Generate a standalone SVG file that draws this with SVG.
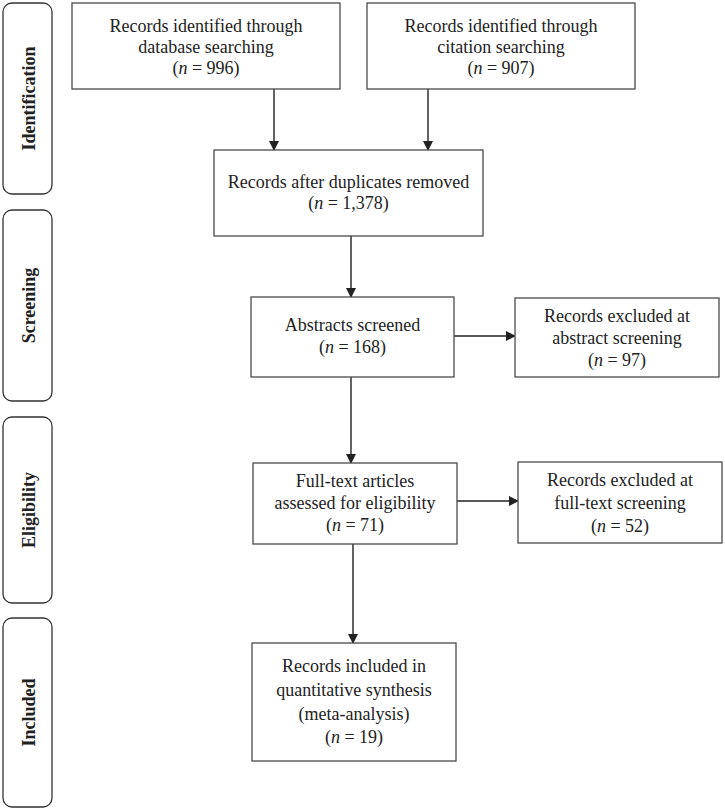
<svg xmlns="http://www.w3.org/2000/svg" width="725" height="809" viewBox="0 0 725 809">
<style>
.box{fill:#fff;stroke:#4a4a4a;stroke-width:1.3}
.side{fill:#fff;stroke:#333;stroke-width:1.3}
.t{font-family:"Liberation Serif","Times New Roman",serif;font-size:18px;fill:#222;text-anchor:middle}
.s{font-family:"Liberation Serif","Times New Roman",serif;font-size:18px;font-weight:bold;fill:#222;text-anchor:middle}
.i{font-style:italic}
.c{stroke:#222;stroke-width:1.4;fill:none;marker-end:url(#ah)}
</style>
<defs>
<marker id="ah" markerWidth="10" markerHeight="10" refX="9" refY="5" orient="auto" markerUnits="userSpaceOnUse">
<path d="M0,0 L10,5 L0,10 Z" fill="#222"/>
</marker>
</defs>
<rect width="725" height="809" fill="#fff"/>
<g id="side-identification"><rect class="side" x="3" y="3" width="49" height="191" rx="9"/><text class="s" transform="translate(35,98.5) rotate(-90)">Identification</text></g>
<g id="side-screening"><rect class="side" x="3" y="210" width="49" height="191" rx="9"/><text class="s" transform="translate(35,305.5) rotate(-90)">Screening</text></g>
<g id="side-eligibility"><rect class="side" x="3" y="417" width="49" height="186" rx="9"/><text class="s" transform="translate(35,510) rotate(-90)">Eligibility</text></g>
<g id="side-included"><rect class="side" x="3" y="618" width="49" height="189" rx="9"/><text class="s" transform="translate(35,712.5) rotate(-90)">Included</text></g>

<g id="connectors">
<line class="c" x1="274" y1="89" x2="274" y2="150"/>
<line class="c" x1="428" y1="89" x2="428" y2="150"/>
<line class="c" x1="351" y1="236" x2="351" y2="297"/>
<line class="c" x1="454" y1="336" x2="515" y2="336"/>
<line class="c" x1="351" y1="377" x2="351" y2="463"/>
<line class="c" x1="457" y1="501" x2="518" y2="501"/>
<line class="c" x1="353" y1="544" x2="353" y2="643"/>
</g>

<g id="db"><rect class="box" x="72" y="3" width="268" height="86"/>
<text class="t" x="206" y="32">Records identified through</text>
<text class="t" x="206" y="53">database searching</text>
<text class="t" x="206" y="74">(<tspan class="i">n</tspan> = 996)</text></g>

<g id="cit"><rect class="box" x="367" y="3" width="268" height="86"/>
<text class="t" x="501" y="32">Records identified through</text>
<text class="t" x="501" y="53">citation searching</text>
<text class="t" x="501" y="74">(<tspan class="i">n</tspan> = 907)</text></g>

<g id="dup"><rect class="box" x="214" y="150" width="269" height="86"/>
<text class="t" x="348.5" y="188">Records after duplicates removed</text>
<text class="t" x="348.5" y="209">(<tspan class="i">n</tspan> = 1,378)</text></g>

<g id="abs"><rect class="box" x="251" y="297" width="203" height="80"/>
<text class="t" x="352.5" y="331">Abstracts screened</text>
<text class="t" x="352.5" y="353">(<tspan class="i">n</tspan> = 168)</text></g>

<g id="exabs"><rect class="box" x="515" y="298" width="204" height="79"/>
<text class="t" x="617" y="322">Records excluded at</text>
<text class="t" x="617" y="344">abstract screening</text>
<text class="t" x="617" y="366">(<tspan class="i">n</tspan> = 97)</text></g>

<g id="full"><rect class="box" x="253" y="463" width="204" height="81"/>
<text class="t" x="355" y="487">Full-text articles</text>
<text class="t" x="355" y="509">assessed for eligibility</text>
<text class="t" x="355" y="531">(<tspan class="i">n</tspan> = 71)</text></g>

<g id="exfull"><rect class="box" x="518" y="462" width="204" height="81"/>
<text class="t" x="620" y="486">Records excluded at</text>
<text class="t" x="620" y="509">full-text screening</text>
<text class="t" x="620" y="532">(<tspan class="i">n</tspan> = 52)</text></g>

<g id="incl"><rect class="box" x="252" y="643" width="204" height="118"/>
<text class="t" x="354" y="672">Records included in</text>
<text class="t" x="354" y="696">quantitative synthesis</text>
<text class="t" x="354" y="720">(meta-analysis)</text>
<text class="t" x="354" y="743">(<tspan class="i">n</tspan> = 19)</text></g>
</svg>
